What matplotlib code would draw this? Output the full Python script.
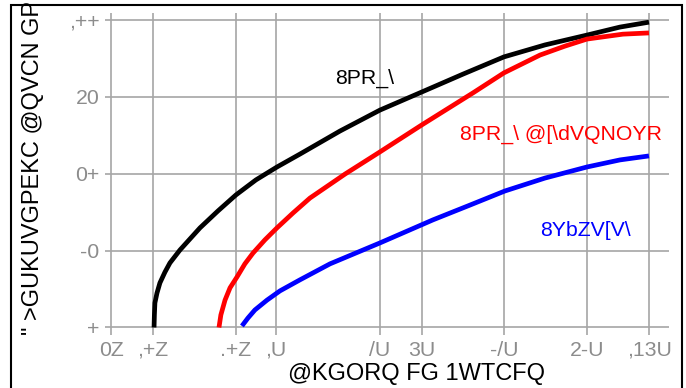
import matplotlib
matplotlib.use("Agg")
import matplotlib.pyplot as plt
import matplotlib.patches as mpatches

plt.rcParams['font.family'] = ['Liberation Sans', 'DejaVu Sans']

# x positions are in the chart's own (log-like) time units
tick_pos = [-0.955, -0.712, -0.233, 0.0, 0.602, 0.844, 1.322, 1.801, 2.162]
tick_labels = ["0Z", ",+Z", ".+Z", ",U", "/U", "3U", "-/U", "2-U", ",13U"]
ytick_vals = [0, 25, 50, 75, 100]
ytick_labels = ["+", "-0", "0+", "20", ",++"]

black_x = [-0.706, -0.704, -0.701, -0.689, -0.672, -0.643, -0.614, -0.556, -0.498, -0.440, -0.336,
           -0.232, -0.116, 0.006, 0.139, 0.371, 0.602, 0.845, 1.083, 1.320, 1.558, 1.801, 1.992, 2.160]
black_y = [0.0, 4.1, 8.0, 11.2, 14.5, 18.0, 21.0, 25.2, 28.8, 32.4, 37.9,
           43.1, 48.0, 52.2, 56.4, 63.9, 70.7, 76.6, 82.4, 88.0, 91.9, 95.1, 97.7, 99.3]

red_x = [-0.330, -0.319, -0.295, -0.266, -0.226, -0.180, -0.133, -0.064, 0.006, 0.098, 0.197,
         0.400, 0.602, 0.845, 1.141, 1.320, 1.529, 1.673, 1.801, 2.009, 2.160]
red_y = [0.0, 4.1, 8.9, 12.9, 16.4, 20.7, 24.2, 28.5, 32.4, 37.2, 42.1,
         49.9, 57.1, 65.9, 76.3, 82.8, 88.6, 91.5, 93.8, 95.4, 95.8]

blue_x = [-0.197, -0.162, -0.122, -0.052, 0.023, 0.139, 0.313, 0.602, 0.909, 1.123, 1.326,
          1.558, 1.801, 1.992, 2.160]
blue_y = [0.5, 3.1, 5.7, 8.9, 11.9, 15.5, 20.7, 27.5, 35.0, 39.8, 44.4,
          48.6, 52.2, 54.5, 55.8]

fig = plt.figure(figsize=(6.86, 3.88), dpi=100)
ax = fig.add_axes([105/686, 53/388, 564/686, 322/388])

ax.plot(black_x, black_y, color='black', lw=3.4, solid_capstyle='butt', zorder=3)
ax.plot(red_x, red_y, color='#ff0000', lw=3.4, solid_capstyle='butt', zorder=3)
ax.plot(blue_x, blue_y, color='#0000ff', lw=3.4, solid_capstyle='butt', zorder=3)

ax.text(0.515, 81.1, "8PR_\\", color='black', fontsize=15.3, ha='center', va='center')
ax.text(1.650, 62.9, "8PR_\\ @[\\dVQNOYR", color='#ff0000', fontsize=15.3, ha='center', va='center')
ax.text(1.795, 31.7, "8YbZV[V\\", color='#0000ff', fontsize=15.3, ha='center', va='center')

ax.set_xlim(-0.990, 2.276)
ax.set_ylim(-2.44, 102.28)
ax.set_xticks(tick_pos)
ax.set_xticklabels(tick_labels)
ax.set_yticks(ytick_vals)
ax.set_yticklabels(ytick_labels)
ax.tick_params(length=0, labelsize=15.3, labelcolor='#8c8c8c')
ax.tick_params(axis='x', pad=4)
ax.tick_params(axis='y', pad=4)
ax.grid(True, color='#a6a6a6', lw=1.2, zorder=0)
for s in ax.spines.values():
    s.set_visible(False)

ax.set_xlabel("@KGORQ FG 1WTCFQ", fontsize=17, color='black')
ax.xaxis.set_label_coords((416 - 105) / 564, -0.088)

fig.text(33/686, 53/388, "\" >GUKUVGPEKC @QVCN GP", rotation=90, fontsize=17,
         ha='center', va='bottom', color='black')

border = mpatches.Rectangle((11/686, -0.05), (682 - 11)/686, (388 - 5.5)/388 + 0.05,
                            transform=fig.transFigure, fill=False, edgecolor='black', lw=1.5)
fig.patches.append(border)

plt.savefig("out.png", dpi=100)
plt.close(fig)
